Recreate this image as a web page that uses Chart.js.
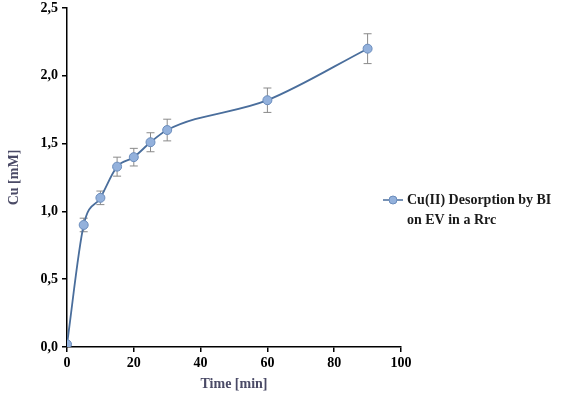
<!DOCTYPE html>
<html>
<head>
<meta charset="utf-8">
<script src="https://cdn.jsdelivr.net/npm/chart.js@4.4.0/dist/chart.umd.min.js"></script>
<style>
  html, body { margin: 0; padding: 0; background: #fff; }
  #wrap { width: 565px; height: 397px; position: relative; }
</style>
</head>
<body>
<div id="wrap"><canvas id="chart" width="565" height="397"></canvas></div>
<script>
// data
const times = [0, 5, 10, 15, 20, 25, 30, 60, 90];
const cu = [0.02, 0.90, 1.10, 1.33, 1.40, 1.51, 1.60, 1.82, 2.20];
const cuErr = [0, 0.05, 0.05, 0.07, 0.065, 0.07, 0.08, 0.09, 0.11];
const xTicks = [0, 20, 40, 60, 80, 100];
const yTicks = [0, 0.5, 1.0, 1.5, 2.0, 2.5];
const seriesName = ['Cu(II) Desorption by BI', 'on EV in a Rrc'];

const serif = '"Liberation Serif", "Times New Roman", serif';
const lineColor = '#4a6e9c';
const markerFill = '#93b1dc';
const markerBorder = '#6a8cbc';

const errorBars = {
  id: 'errorBars',
  beforeDatasetsDraw(chart){
    const {ctx, scales:{x, y}} = chart;
    ctx.save();
    ctx.strokeStyle = '#8a8a8a';
    ctx.lineWidth = 1;
    times.forEach((t, i) => {
      if (!cuErr[i]) return;
      const px = x.getPixelForValue(t);
      const top = y.getPixelForValue(cu[i] + cuErr[i]);
      const bot = y.getPixelForValue(cu[i] - cuErr[i]);
      ctx.beginPath();
      ctx.moveTo(px, top); ctx.lineTo(px, bot);
      ctx.moveTo(px - 4, top); ctx.lineTo(px + 4, top);
      ctx.moveTo(px - 4, bot); ctx.lineTo(px + 4, bot);
      ctx.stroke();
    });
    ctx.restore();
  }
};

const sideLegend = {
  id: 'sideLegend',
  afterDraw(chart){
    const ctx = chart.ctx;
    const lx = 383, ly = 200;
    ctx.save();
    ctx.strokeStyle = lineColor;
    ctx.lineWidth = 1.5;
    ctx.beginPath();
    ctx.moveTo(lx, ly); ctx.lineTo(lx + 20, ly);
    ctx.stroke();
    ctx.beginPath();
    ctx.arc(lx + 10, ly, 4, 0, Math.PI * 2);
    ctx.fillStyle = markerFill;
    ctx.fill();
    ctx.strokeStyle = markerBorder;
    ctx.lineWidth = 1;
    ctx.stroke();
    ctx.fillStyle = '#1a1a1a';
    ctx.font = 'bold 14px ' + serif;
    ctx.textBaseline = 'middle';
    ctx.fillText(seriesName[0], lx + 24, ly);
    ctx.fillText(seriesName[1], lx + 24, ly + 20);
    ctx.restore();
  }
};

const ctx = document.querySelector('#chart').getContext('2d');
const myChart = new Chart(ctx, {
  type: 'line',
  data: {
    datasets: [{
      label: seriesName.join(' '),
      data: times.map((t, i) => ({x: t, y: cu[i]})),
      borderColor: lineColor,
      borderWidth: 1.8,
      backgroundColor: markerFill,
      pointBackgroundColor: markerFill,
      pointBorderColor: markerBorder,
      pointBorderWidth: 1,
      pointRadius: 4.5,
      tension: 0.4,
      cubicInterpolationMode: 'monotone',
      fill: false
    }]
  },
  plugins: [errorBars, sideLegend],
  options: {
    responsive: false,
    animation: false,
    layout: { padding: { left: 2, top: 0, right: 164, bottom: 0 } },
    plugins: { legend: { display: false }, tooltip: { enabled: false } },
    scales: {
      x: {
        type: 'linear',
        min: 0, max: 100,
        afterBuildTicks: axis => { axis.ticks = xTicks.map(v => ({value: v})); },
        afterFit: axis => { axis.height = 50; },
        border: { color: '#000', width: 1.5 },
        grid: { drawOnChartArea: false, drawTicks: true, tickLength: 5, color: '#000', lineWidth: 1.5 },
        ticks: { color: '#000', padding: 3, font: { family: serif, size: 14, weight: 'bold' } },
        title: { display: true, text: 'Time [min]', color: '#4a4a66', padding: { top: 1 },
                 font: { family: serif, size: 14, weight: 'bold' } }
      },
      y: {
        min: 0, max: 2.5,
        afterBuildTicks: axis => { axis.ticks = yTicks.map(v => ({value: v})); },
        afterFit: axis => { axis.width = 65; axis.paddingTop = 8; },
        border: { color: '#000', width: 1.5 },
        grid: { drawOnChartArea: false, drawTicks: true, tickLength: 5, color: '#000', lineWidth: 1.5 },
        ticks: { color: '#000', padding: 4,
                 callback: v => v.toFixed(1).replace('.', ','),
                 font: { family: serif, size: 14, weight: 'bold' } },
        title: { display: true, text: 'Cu [mM]', color: '#4a4a66', padding: { bottom: 10 },
                 font: { family: serif, size: 14, weight: 'bold' } }
      }
    }
  }
});
</script>
</body>
</html>
